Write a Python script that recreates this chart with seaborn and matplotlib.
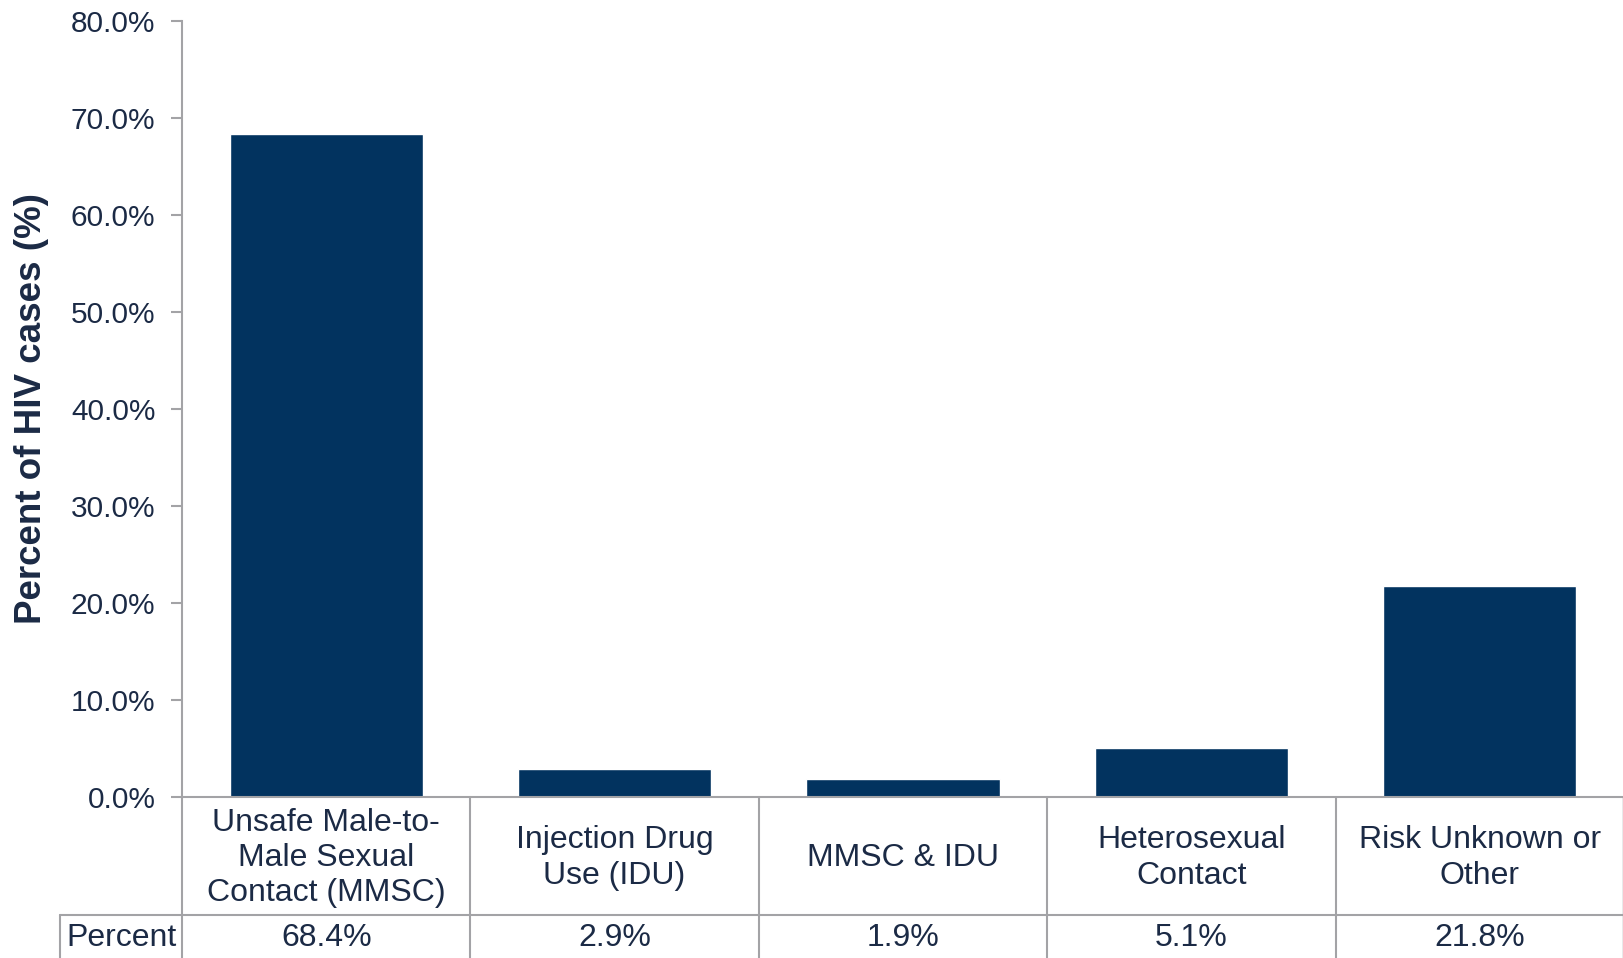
import matplotlib
matplotlib.use("Agg")
import matplotlib.pyplot as plt
import matplotlib.transforms as mtransforms
from matplotlib.lines import Line2D
import pandas as pd
import seaborn as sns

# data
categories = [
    "Unsafe Male-to-\nMale Sexual\nContact (MMSC)",
    "Injection Drug\nUse (IDU)",
    "MMSC & IDU",
    "Heterosexual\nContact",
    "Risk Unknown or\nOther",
]
percents = [68.4, 2.9, 1.9, 5.1, 21.8]
y_ticks = [0, 10, 20, 30, 40, 50, 60, 70, 80]

bar_color = "#02335f"
text_color = "#1b2a45"
line_color = "#a3a3a6"

sns.set_style("white")
plt.rcParams["font.family"] = ["Liberation Sans", "DejaVu Sans"]

df = pd.DataFrame({"category": categories, "percent": percents})

fig = plt.figure(figsize=(16.24, 9.58), dpi=100)
ax = fig.add_axes([182 / 1624, 1 - 797 / 958, 1 - 182 / 1624, (797 - 21) / 958])

sns.barplot(data=df, x="category", y="percent", color=bar_color,
            width=0.67, saturation=1, ax=ax)

ax.set_xlim(-0.5, len(categories) - 0.5)
ax.set_ylim(0, 80)
ax.set_yticks(y_ticks)
ax.set_yticklabels([f"{t:.1f}%" for t in y_ticks], fontsize=21.5, color=text_color)
ax.tick_params(axis="y", length=8, width=1.5, color=line_color, pad=11, left=True)
ax.set_xticks([])
ax.set_xlabel("")
ax.set_ylabel("Percent of HIV cases (%)", fontsize=26.5, fontweight="bold",
              color=text_color, labelpad=16)

for side in ["top", "right"]:
    ax.spines[side].set_visible(False)
for side in ["left", "bottom"]:
    ax.spines[side].set_color(line_color)
    ax.spines[side].set_linewidth(1.5)

# data table below the axis
trans = mtransforms.blended_transform_factory(ax.transData, fig.transFigure)
y_axis = 1 - 797 / 958
y_row = 1 - 915 / 958
y_mid1 = (y_axis + y_row) / 2 - 2 / 958
y_mid2 = 1 - 938 / 958

for i in range(len(categories) + 1):
    xb = i - 0.5
    lw = 2.5 if i == len(categories) else 1.5
    ax.add_line(Line2D([xb, xb], [0, y_axis], transform=trans, color=line_color,
                       lw=lw, clip_on=False))

fig.add_artist(Line2D([60 / 1624, 1], [y_row, y_row], transform=fig.transFigure,
                      color=line_color, lw=1.5))
fig.add_artist(Line2D([60 / 1624, 60 / 1624], [0, y_row], transform=fig.transFigure,
                      color=line_color, lw=1.5))

for i, (cat, p) in enumerate(zip(categories, percents)):
    ax.text(i, y_mid1, cat, transform=trans, ha="center", va="center",
            fontsize=23, color=text_color, linespacing=1.22)
    ax.text(i, y_mid2, f"{p:.1f}%", transform=trans, ha="center", va="center",
            fontsize=23, color=text_color)

fig.text(66 / 1624, y_mid2, "Percent", ha="left", va="center",
         fontsize=23, color=text_color)

fig.savefig("out.png", dpi=100)
